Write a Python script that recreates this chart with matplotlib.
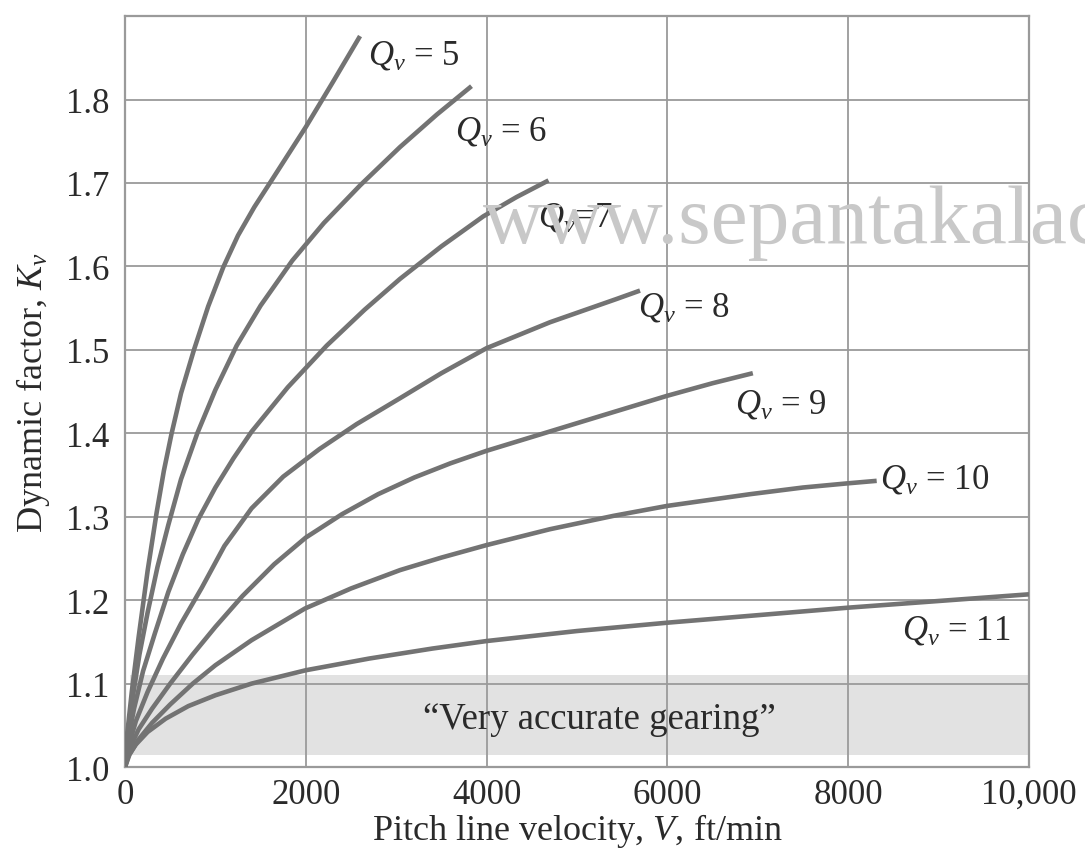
import matplotlib
matplotlib.use("Agg")
import matplotlib.pyplot as plt

# Pitch line velocity V (ft/min) and dynamic factor Kv
v_q5 = [0, 25, 75, 150, 250, 350, 430, 516, 620, 763, 920, 1087, 1250, 1430, 1621, 2000, 2300, 2600]
k_q5 = [1.0, 1.04, 1.09, 1.155, 1.235, 1.305, 1.355, 1.40, 1.448, 1.50, 1.552, 1.599, 1.637, 1.671,
        1.703, 1.767, 1.821, 1.876]

v_q6 = [0, 25, 80, 160, 250, 360, 479, 620, 800, 1000, 1235, 1500, 1851, 2200, 2600, 3042, 3450, 3833]
k_q6 = [1.0, 1.035, 1.08, 1.135, 1.185, 1.24, 1.29, 1.345, 1.40, 1.452, 1.505, 1.553, 1.607, 1.652,
        1.697, 1.743, 1.782, 1.816]

v_q7 = [0, 30, 100, 200, 330, 480, 640, 811, 1000, 1200, 1401, 1800, 2231, 2650, 3042, 3500, 3964,
        4330, 4685]
k_q7 = [1.0, 1.03, 1.07, 1.115, 1.16, 1.21, 1.255, 1.297, 1.335, 1.37, 1.402, 1.455, 1.505, 1.548,
        1.585, 1.624, 1.66, 1.683, 1.703]

v_q8 = [0, 40, 120, 250, 420, 620, 850, 1100, 1400, 1750, 2150, 2563, 3042, 3500, 4000, 4700, 5439, 5697]
k_q8 = [1.0, 1.025, 1.055, 1.09, 1.13, 1.172, 1.215, 1.265, 1.31, 1.348, 1.381, 1.411, 1.442, 1.472,
        1.502, 1.533, 1.561, 1.571]

v_q9 = [0, 50, 150, 300, 500, 750, 1000, 1300, 1650, 2000, 2400, 2800, 3200, 3600, 4000, 4665,
        5300, 6000, 6500, 6945]
k_q9 = [1.0, 1.022, 1.045, 1.07, 1.10, 1.135, 1.168, 1.205, 1.243, 1.275, 1.303, 1.327, 1.347,
        1.364, 1.379, 1.401, 1.422, 1.445, 1.46, 1.472]

v_q10 = [0, 50, 150, 300, 500, 750, 1000, 1400, 1991, 2500, 3042, 3500, 4000, 4700, 5402, 6000,
         6914, 7500, 7994, 8315]
k_q10 = [1.0, 1.015, 1.033, 1.053, 1.075, 1.10, 1.122, 1.152, 1.19, 1.214, 1.236, 1.251, 1.266,
         1.285, 1.301, 1.313, 1.327, 1.335, 1.34, 1.343]

v_q11 = [0, 40, 120, 250, 450, 700, 1000, 1400, 2000, 2700, 3400, 4000, 5000, 6000, 7000, 8000,
         9000, 10000]
k_q11 = [1.0, 1.014, 1.027, 1.042, 1.058, 1.073, 1.086, 1.10, 1.116, 1.13, 1.142, 1.151, 1.163,
         1.173, 1.182, 1.191, 1.199, 1.207]

curves = [(v_q5, k_q5), (v_q6, k_q6), (v_q7, k_q7), (v_q8, k_q8),
          (v_q9, k_q9), (v_q10, k_q10), (v_q11, k_q11)]

curve_labels = [r"$Q_v$ = 5", r"$Q_v$ = 6", r"$Q_v$=7", r"$Q_v$ = 8",
                r"$Q_v$ = 9", r"$Q_v$ = 10", r"$Q_v$ = 11"]
label_v = [2690, 3650, 4570, 5675, 6750, 8350, 8600]
label_k = [1.853, 1.762, 1.659, 1.551, 1.435, 1.345, 1.164]

x_ticks = [0, 2000, 4000, 6000, 8000, 10000]
x_tick_labels = ["0", "2000", "4000", "6000", "8000", "10,000"]
y_ticks = [1.0, 1.1, 1.2, 1.3, 1.4, 1.5, 1.6, 1.7, 1.8]
y_tick_labels = ["1.0", "1.1", "1.2", "1.3", "1.4", "1.5", "1.6", "1.7", "1.8"]

# shaded band for "very accurate gearing"
band_low, band_high = 1.015, 1.11

plt.rcParams["font.family"] = ["Liberation Serif", "DejaVu Serif"]
plt.rcParams["mathtext.fontset"] = "custom"
plt.rcParams["mathtext.rm"] = "Liberation Serif"
plt.rcParams["mathtext.it"] = "Liberation Serif:italic"

text_color = "#2a2a2a"
grid_color = "#9a9a9a"
curve_color = "#737373"

fig = plt.figure(figsize=(10.85, 8.53), dpi=100)
ax = fig.add_axes([0.1152, 0.0996, 0.8332, 0.8804])

# scan watermark
fig.text(0.445, 0.715, "www.sepantakalac", fontsize=60, color="#c8c8c8",
         ha="left", va="baseline", zorder=0)
ax.patch.set_alpha(0)

ax.axhspan(band_low, band_high, xmin=0.005, xmax=1.0, color="#e2e2e2", zorder=0, lw=0)

for v, k in curves:
    ax.plot(v, k, color=curve_color, lw=3.3, solid_capstyle="butt",
            solid_joinstyle="round", zorder=3)

for lab, lv, lk in zip(curve_labels, label_v, label_k):
    ax.text(lv, lk, lab, fontsize=25, color=text_color, ha="left", va="center", zorder=4)

ax.text(5250, 1.058, "\u201cVery accurate gearing\u201d", fontsize=26.5, color=text_color,
        ha="center", va="center", zorder=4)

ax.set_xlim(0, 10000)
ax.set_ylim(1.0, 1.9)
ax.set_xticks(x_ticks)
ax.set_xticklabels(x_tick_labels)
ax.set_yticks(y_ticks)
ax.set_yticklabels(y_tick_labels)
ax.tick_params(length=0, labelsize=25, labelcolor=text_color)
ax.tick_params(axis="x", pad=8)
ax.tick_params(axis="y", pad=11)

ax.grid(True, color=grid_color, lw=1.3, zorder=1)
ax.set_axisbelow(True)
for s in ax.spines.values():
    s.set_color(grid_color)
    s.set_linewidth(1.6)

ax.set_xlabel(r"Pitch line velocity, $V$, ft/min", fontsize=26, color=text_color, labelpad=0)
ax.set_ylabel(r"Dynamic factor, $K_v$", fontsize=26, color=text_color, labelpad=10)

fig.savefig("out.png", dpi=100)
